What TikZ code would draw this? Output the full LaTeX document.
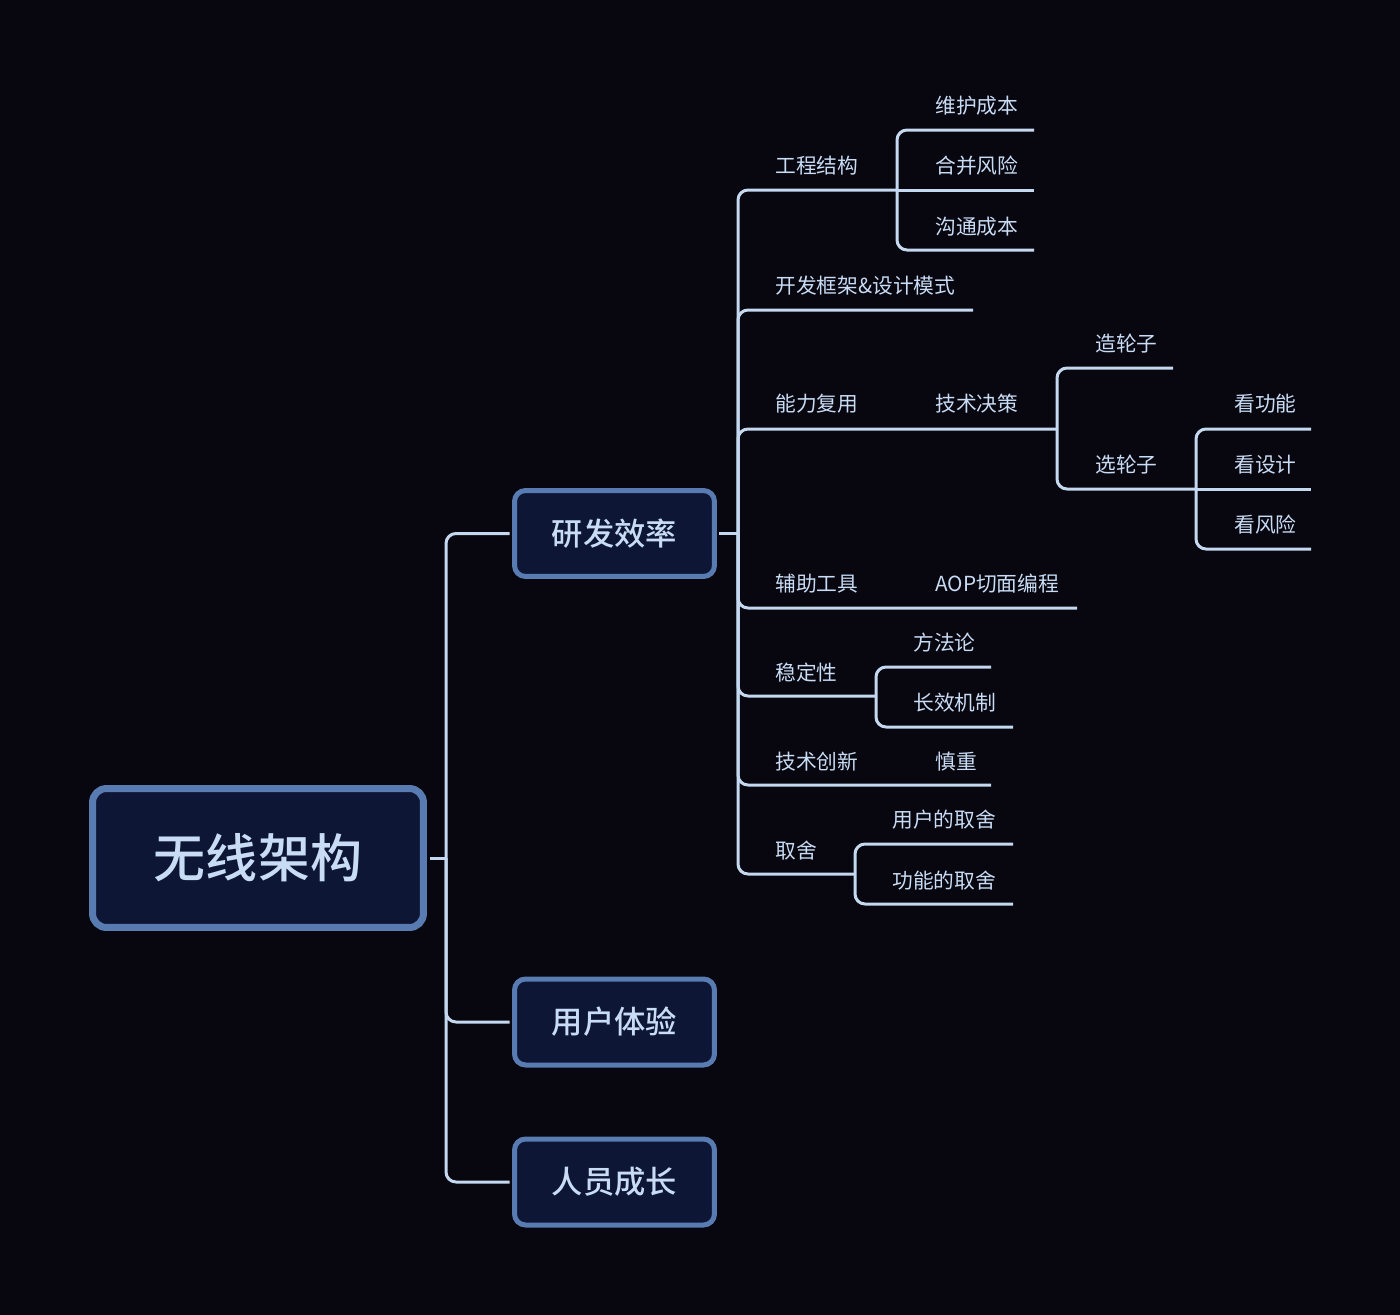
\documentclass[tikz,border=0pt]{standalone}
\usepackage{fontspec}
\newfontfamily\cjk{Noto Sans CJK SC}
\newfontfamily\cjkm{Noto Sans CJK SC Medium}
\usetikzlibrary{positioning}
\definecolor{bgc}{RGB}{8,6,14}
\definecolor{boxf}{RGB}{14,22,54}
\definecolor{boxd}{RGB}{88,124,178}
\definecolor{txt}{RGB}{200,220,245}
\definecolor{ln}{RGB}{196,216,240}
\tikzset{
  % central topic
  root/.style={rectangle, rounded corners=0.28cm, draw=boxd, line width=0.14cm, fill=boxf,
               minimum width=6.62cm, minimum height=2.78cm, text=txt,
               font=\cjkm\fontsize{29.6pt}{32pt}\selectfont},
  % main topics
  topic/.style={rectangle, rounded corners=0.22cm, draw=boxd, line width=0.1cm, fill=boxf,
                minimum width=4.0cm, minimum height=1.72cm, text=txt,
                font=\cjkm\fontsize{17.8pt}{20pt}\selectfont},
  % underlined sub-topics
  leaf/.style={anchor=west, inner sep=0pt, text=txt, font=\cjk\fontsize{11.8pt}{14pt}\selectfont},
  br/.style={draw=ln, line width=0.06cm, rounded corners=0.2cm}
}

\begin{document}
\begin{tikzpicture}[x=0.02cm,y=-0.02cm]
    \fill[bgc] (0,0) rectangle (1400,1315);

    % ---- central topic and main topics ----
    \node[root]  (rt) at (258,858)     {无线架构};
    \node[topic] (rd) at (614.5,533.5) {研发效率};
    \node[topic] (ux) at (614.5,1022)  {用户体验};
    \node[topic] (pg) at (614.5,1182)  {人员成长};

    \coordinate (sp1) at (rt.east -| 446,0);
    \draw[br, shorten <=0.07cm] (rt.east) -- (sp1);
    \draw[br, shorten >=0.05cm] (sp1) |- (rd.west);
    \draw[br, shorten >=0.05cm] (sp1) |- (ux.west);
    \draw[br, shorten >=0.05cm] (sp1) |- (pg.west);

    % ---- 研发效率 branches ----
    \coordinate (sp2) at (rd.east -| 738,0);
    \draw[br, shorten <=0.05cm] (rd.east) -- (sp2);

    \node[leaf] (gc) at (775,166) {工程结构};
    \node[leaf] (kf) at (775,286) {开发框架\&设计模式};
    \node[leaf] (nl) at (775,404) {能力复用};
    \node[leaf] (fz) at (775,584) {辅助工具};
    \node[leaf] (wd) at (775,673) {稳定性};
    \node[leaf] (cx) at (775,762) {技术创新};
    \node[leaf] (qs) at (775,851) {取舍};

    \coordinate (gcE) at (897,190);
    \coordinate (kfE) at (973,310);
    \coordinate (nlE) at (1057,429);
    \coordinate (fzE) at (1077,608);
    \coordinate (wdE) at (876,696);
    \coordinate (cxE) at (991,785);
    \coordinate (qsE) at (855,874);
    \foreach \e in {gcE,kfE,nlE,fzE,wdE,cxE,qsE}
      \draw[br] (sp2) |- (\e);

    % 工程结构
    \node[leaf] (wh) at (935,106) {维护成本};
    \node[leaf] (hb) at (935,166) {合并风险};
    \node[leaf] (gt) at (935,227) {沟通成本};
    \coordinate (whE) at (1034,130);
    \coordinate (hbE) at (1034,190);
    \coordinate (gtE) at (1034,250);
    \draw[br] (gcE) |- (whE);
    \draw[br] (gcE) -- (hbE);
    \draw[br] (gcE) |- (gtE);

    % 能力复用 -> 技术决策
    \node[leaf] (jc) at (935,404) {技术决策};
    \node[leaf] (zao) at (1095,344) {造轮子};
    \node[leaf] (xuan) at (1095,465) {选轮子};
    \coordinate (zaoE) at (1173,368);
    \coordinate (xuanE) at (1196,489);
    \draw[br] (nlE) |- (zaoE);
    \draw[br] (nlE) |- (xuanE);

    \node[leaf] (kgn) at (1234,404) {看功能};
    \node[leaf] (ksj) at (1234,465) {看设计};
    \node[leaf] (kfx) at (1234,525) {看风险};
    \coordinate (kgnE) at (1311,429);
    \coordinate (ksjE) at (1311,489);
    \coordinate (kfxE) at (1311,549);
    \draw[br] (xuanE) |- (kgnE);
    \draw[br] (xuanE) -- (ksjE);
    \draw[br] (xuanE) |- (kfxE);

    % 辅助工具
    \node[leaf] (aop) at (935,584) {AOP切面编程};

    % 稳定性
    \node[leaf] (ff) at (913,643) {方法论};
    \node[leaf] (cj) at (913,703) {长效机制};
    \coordinate (ffE) at (991,667);
    \coordinate (cjE) at (1013,727);
    \draw[br] (wdE) |- (ffE);
    \draw[br] (wdE) |- (cjE);

    % 技术创新
    \node[leaf] (sz) at (935,762) {慎重};

    % 取舍
    \node[leaf] (yh) at (892,820) {用户的取舍};
    \node[leaf] (gn) at (892,881) {功能的取舍};
    \coordinate (yhE) at (1013,844);
    \coordinate (gnE) at (1013,904);
    \draw[br] (qsE) |- (yhE);
    \draw[br] (qsE) |- (gnE);
\end{tikzpicture}
\end{document}
